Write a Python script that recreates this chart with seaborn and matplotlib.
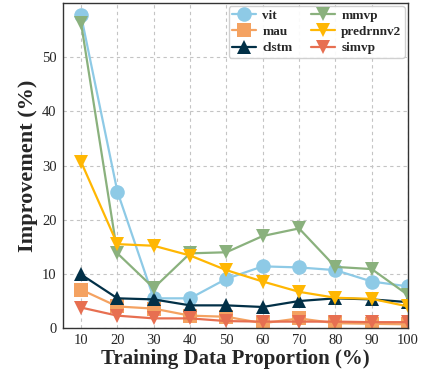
import pandas as pd
import matplotlib.pyplot as plt
import seaborn as sns

# === DATA ===
proportions = [10, 20, 30, 40, 50, 60, 70, 80, 90, 100]
vit = [57.7, 25.2, 5.5, 5.5, 9.1, 11.4, 11.2, 10.7, 8.6, 7.7]
mau = [7.1, 4.0, 3.6, 2.3, 2.1, 0.9, 1.8, 0.9, 0.8, 0.7]
clstm = [9.9, 5.5, 5.3, 4.2, 4.2, 3.9, 5.0, 5.5, 5.3, 4.8]
mmvp = [56.3, 13.8, 7.4, 13.8, 14.0, 17.0, 18.4, 11.3, 10.9, 6.1]
predrnnv2 = [30.7, 15.5, 15.2, 13.4, 10.7, 8.6, 6.7, 5.6, 5.4, 4.0]
simvp = [3.8, 2.3, 1.8, 1.8, 1.3, 1.2, 1.2, 1.2, 1.1, 1.1]

models = ["vit", "mau", "clstm", "mmvp", "predrnnv2", "simvp"]
series = [vit, mau, clstm, mmvp, predrnnv2, simvp]
colors = ["#8ECAE6", "#F4A261", "#023047", "#8AB17D", "#FFB703", "#E76F51"]
markers = ["o", "s", "^", "v", "v", "v"]

rows = []
for name, vals in zip(models, series):
    for p, v in zip(proportions, vals):
        rows.append({"proportion": p, "improvement": v, "model": name})
df = pd.DataFrame(rows)

# === STYLE ===
sns.set_style("whitegrid", {"grid.linestyle": (0, (3, 3)), "grid.color": "#c4c4c4",
                            "axes.edgecolor": "#333333"})
plt.rcParams["font.family"] = ["Liberation Serif", "DejaVu Serif"]
plt.rcParams["grid.linewidth"] = 0.8

fig, ax = plt.subplots(figsize=(4.22, 3.75), dpi=100)
fig.subplots_adjust(left=0.149, right=0.967, top=0.992, bottom=0.125)

sns.lineplot(data=df, x="proportion", y="improvement", hue="model", style="model",
             hue_order=models, style_order=models, palette=colors,
             markers=dict(zip(models, markers)), dashes=False,
             markersize=10.5, linewidth=1.6, markeredgewidth=0, ax=ax)

ax.set_xlim(5, 100)
ax.set_ylim(0, 60)
ax.set_xticks(proportions)
ax.set_yticks([0, 10, 20, 30, 40, 50])
ax.tick_params(labelsize=10.5, length=2.5, pad=2, color="#333333")
ax.set_xlabel("Training Data Proportion (%)", fontsize=15, fontweight="bold", labelpad=1)
ax.set_ylabel("Improvement (%)", fontsize=16, fontweight="bold", labelpad=3)
for s in ax.spines.values():
    s.set_linewidth(1.0)

ax.legend(loc="upper right", ncol=2, prop={"weight": "bold", "size": 9.5},
          handlelength=1.8, columnspacing=1.4, handletextpad=0.5,
          labelspacing=0.3, borderpad=0.25, borderaxespad=0.25, framealpha=0.9)

plt.savefig("out.png", dpi=100)
plt.close(fig)
